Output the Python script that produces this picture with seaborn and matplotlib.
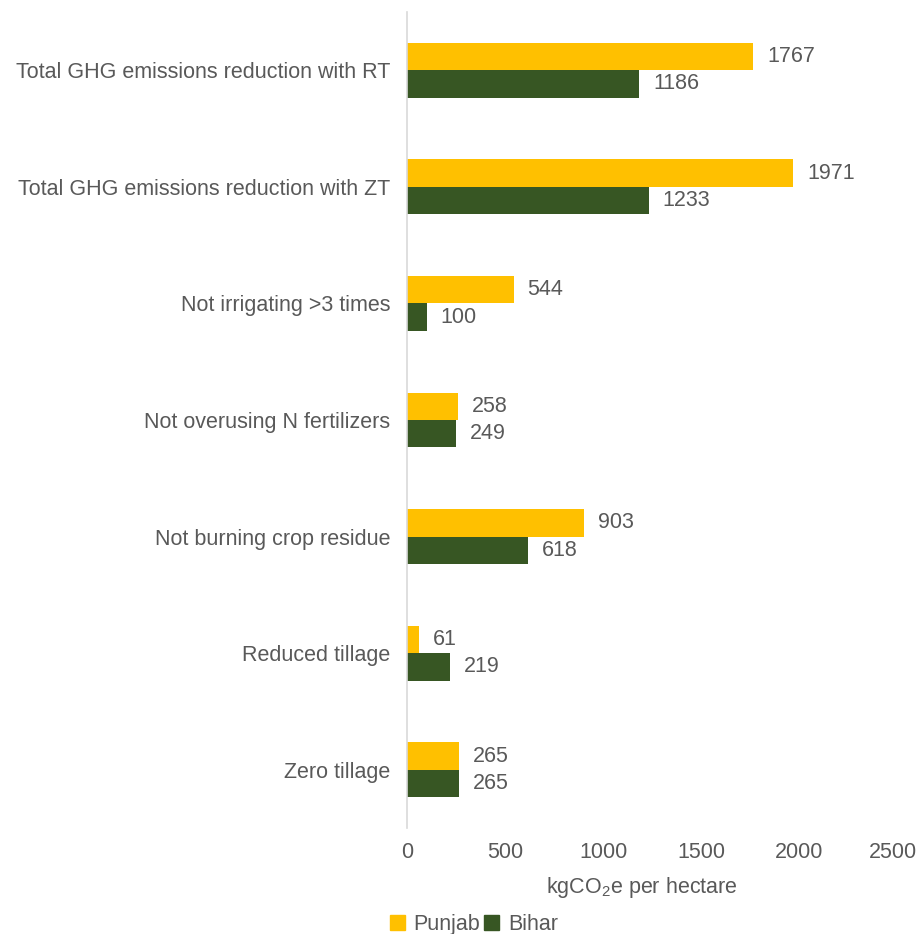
import pandas as pd
import seaborn as sns
import matplotlib.pyplot as plt
import matplotlib.transforms as mtransforms

# Categories top to bottom
categories = ['Total GHG emissions reduction with RT',
              'Total GHG emissions reduction with ZT',
              'Not irrigating >3 times',
              'Not overusing N fertilizers',
              'Not burning crop residue',
              'Reduced tillage',
              'Zero tillage']
punjab = [1767, 1971, 544, 258, 903, 61, 265]
bihar = [1186, 1233, 100, 249, 618, 219, 265]
states = ['Punjab', 'Bihar']
xticks = [0, 500, 1000, 1500, 2000, 2500]

df = pd.DataFrame({
    'category': categories * 2,
    'value': punjab + bihar,
    'state': ['Punjab'] * len(categories) + ['Bihar'] * len(categories),
})

sns.set_style('white')
plt.rcParams['font.family'] = ['Liberation Sans', 'DejaVu Sans']
text_color = '#595959'
colors = ['#FFC000', '#375623']
fs = 15.5

fig = plt.figure(figsize=(9.2, 9.34), dpi=100)
ax = fig.add_axes([0.4424, 0.1135, 0.5326, 0.8737])

sns.barplot(data=df, x='value', y='category', hue='state', hue_order=states,
            order=categories, palette=colors, saturation=1, width=0.47,
            linewidth=0, orient='h', ax=ax, legend=False)

for cont in ax.containers:
    ax.bar_label(cont, padding=10, fontsize=fs, color=text_color)

ax.set_xlim(0, 2500)
ax.set_xticks(xticks)
ax.set_xticklabels([str(t) for t in xticks])
ax.tick_params(axis='x', labelsize=fs, colors=text_color, length=0, pad=10)
ax.tick_params(axis='y', labelsize=fs, colors=text_color, length=0, pad=12)
ax.set_ylabel('')
ax.set_xlabel(r'kgCO$_\mathregular{2}$e per hectare', fontsize=fs,
              color=text_color)
ax.xaxis.set_label_coords(0.48, -0.058)

# keep the last tick label inside the figure
last = ax.get_xticklabels()[-1]
last.set_transform(last.get_transform() +
                   mtransforms.ScaledTranslation(-4 / 100, 0, fig.dpi_scale_trans))

for s in ['top', 'right', 'bottom']:
    ax.spines[s].set_visible(False)
ax.spines['left'].set_color('#d9d9d9')
ax.spines['left'].set_linewidth(1.2)

handles = [plt.Rectangle((0, 0), 1, 1, color=c) for c in colors]
fig.legend(handles, states, loc='center', bbox_to_anchor=(0.515, 0.01), ncol=2,
           frameon=False, fontsize=fs, handlelength=0.7, handleheight=0.7,
           handletextpad=0.4, columnspacing=0.2, labelcolor=text_color,
           borderpad=0.1)

fig.savefig('out.png', dpi=100)
